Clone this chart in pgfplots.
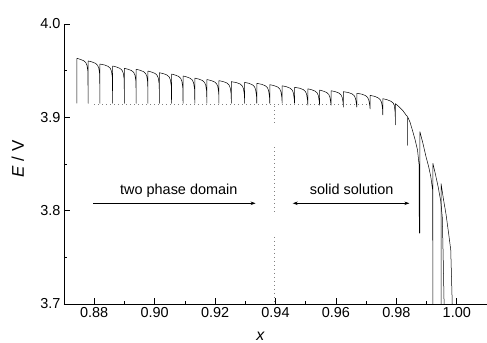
\documentclass[border=0pt]{standalone}
\usepackage{fontspec}
\setmainfont{Liberation Sans}
\usepackage{pgfplots}
\pgfplotsset{compat=1.18}
\usetikzlibrary{arrows.meta}
\begin{document}
\begin{tikzpicture}
\begin{axis}[
  scale only axis, width=423bp, height=280bp,
  xmin=0.87, xmax=1.01, ymin=3.7, ymax=4.0,
  axis x line*=bottom, axis y line*=left,
  axis line style={black, line width=0.8bp},
  xtick={0.88,0.90,0.92,0.94,0.96,0.98,1.00},
  ytick={3.7,3.8,3.9,4.0},
  minor x tick num=1, minor y tick num=1,
  tick align=inside,
  tick style={black, line width=0.7bp},
  major tick length=6bp, minor tick length=3.5bp,
  /pgf/number format/assume math mode=true,
  xticklabel style={/pgf/number format/.cd, fixed, fixed zerofill, precision=2},
  yticklabel style={/pgf/number format/.cd, fixed, fixed zerofill, precision=1},
  ticklabel style={font=\fontsize{14.5}{17}\selectfont},
  xlabel={\textit{x}}, ylabel={\textit{E} / V},
  xlabel style={font=\fontsize{16}{19}\selectfont, at={(axis description cs:0.465,-0.114)}, anchor=center},
  ylabel style={font=\fontsize{17}{20}\selectfont, at={(axis description cs:-0.109,0.518)}, anchor=center},
]
% equilibrium dotted lines
\addplot[gray, line width=0.6bp, dash pattern=on 0.6bp off 3.4bp] coordinates {(0.880,3.914) (0.9705,3.914)};
\addplot[gray, line width=0.6bp, dash pattern=on 0.6bp off 3.4bp] coordinates {(0.9397,3.912) (0.9397,3.894)};
\addplot[gray, line width=0.6bp, dash pattern=on 0.6bp off 3.4bp] coordinates {(0.9397,3.868) (0.9397,3.797)};
\addplot[gray, line width=0.6bp, dash pattern=on 0.6bp off 3.4bp] coordinates {(0.9397,3.772) (0.9397,3.700)};
% GITT sawtooth
\addplot[black, line width=0.5bp, line join=round] coordinates {
(0.8743,3.915)
(0.8743,3.9632)(0.8753,3.9622)(0.8765,3.9607)(0.8772,3.9587)(0.8776,3.9557)(0.8779,3.9492)(0.8780,3.915)
(0.8780,3.9604)(0.8792,3.9594)(0.8804,3.9579)(0.8811,3.9559)(0.8815,3.9529)(0.8818,3.9464)(0.8819,3.915)
(0.8819,3.9571)(0.8834,3.9561)(0.8846,3.9546)(0.8853,3.9526)(0.8857,3.9496)(0.8860,3.9431)(0.8861,3.915)
(0.8861,3.9550)(0.8873,3.9540)(0.8885,3.9525)(0.8892,3.9505)(0.8896,3.9475)(0.8899,3.9410)(0.8900,3.915)
(0.8900,3.9525)(0.8912,3.9515)(0.8924,3.9500)(0.8931,3.9480)(0.8935,3.9450)(0.8938,3.9385)(0.8939,3.915)
(0.8939,3.9515)(0.8951,3.9505)(0.8963,3.9490)(0.8970,3.9470)(0.8974,3.9440)(0.8977,3.9375)(0.8978,3.915)
(0.8978,3.9496)(0.8989,3.9486)(0.9001,3.9471)(0.9008,3.9451)(0.9012,3.9421)(0.9015,3.9356)(0.9016,3.915)
(0.9016,3.9478)(0.9029,3.9468)(0.9041,3.9453)(0.9048,3.9433)(0.9052,3.9403)(0.9055,3.9338)(0.9056,3.915)
(0.9056,3.9464)(0.9067,3.9454)(0.9079,3.9439)(0.9086,3.9419)(0.9090,3.9389)(0.9093,3.9324)(0.9094,3.915)
(0.9094,3.9443)(0.9106,3.9433)(0.9118,3.9418)(0.9125,3.9398)(0.9129,3.9368)(0.9132,3.9303)(0.9133,3.915)
(0.9133,3.9420)(0.9146,3.9410)(0.9158,3.9395)(0.9165,3.9375)(0.9169,3.9345)(0.9172,3.9280)(0.9173,3.915)
(0.9173,3.9405)(0.9186,3.9395)(0.9198,3.9380)(0.9205,3.9360)(0.9209,3.9330)(0.9212,3.9265)(0.9213,3.915)
(0.9213,3.9393)(0.9227,3.9383)(0.9239,3.9368)(0.9246,3.9348)(0.9250,3.9318)(0.9253,3.9253)(0.9254,3.915)
(0.9254,3.9382)(0.9271,3.9372)(0.9283,3.9357)(0.9290,3.9337)(0.9294,3.9307)(0.9297,3.9242)(0.9298,3.915)
(0.9298,3.9375)(0.9311,3.9365)(0.9323,3.9350)(0.9330,3.9330)(0.9334,3.9300)(0.9337,3.9235)(0.9338,3.915)
(0.9338,3.9364)(0.9354,3.9354)(0.9366,3.9339)(0.9373,3.9319)(0.9377,3.9289)(0.9380,3.9224)(0.9381,3.915)
(0.9381,3.9350)(0.9395,3.9340)(0.9407,3.9325)(0.9414,3.9305)(0.9418,3.9275)(0.9421,3.9210)(0.9422,3.915)
(0.9422,3.9338)(0.9436,3.9328)(0.9448,3.9313)(0.9455,3.9293)(0.9459,3.9263)(0.9462,3.9198)(0.9463,3.915)
(0.9463,3.9322)(0.9480,3.9312)(0.9492,3.9297)(0.9499,3.9277)(0.9503,3.9247)(0.9506,3.9182)(0.9507,3.913)
(0.9507,3.9306)(0.9519,3.9296)(0.9531,3.9281)(0.9538,3.9261)(0.9542,3.9231)(0.9545,3.9166)(0.9546,3.913)
(0.9546,3.9292)(0.9557,3.9282)(0.9569,3.9267)(0.9576,3.9247)(0.9580,3.9217)(0.9583,3.9152)(0.9584,3.913)
(0.9584,3.9285)(0.9598,3.9275)(0.9610,3.9260)(0.9617,3.9240)(0.9621,3.9210)(0.9624,3.9150)(0.9625,3.911)
(0.9625,3.9275)(0.9642,3.9265)(0.9654,3.9250)(0.9661,3.9230)(0.9665,3.9200)(0.9668,3.9140)(0.9669,3.911)
(0.9669,3.9258)(0.9686,3.9248)(0.9698,3.9233)(0.9705,3.9213)(0.9709,3.9183)(0.9712,3.9125)(0.9713,3.909)
(0.9713,3.9235)(0.9728,3.9225)(0.9740,3.9208)(0.9747,3.9188)(0.9751,3.9160)(0.9754,3.9100)(0.9755,3.9025)
(0.9755,3.9200)(0.9770,3.9188)(0.9782,3.9172)(0.9789,3.9155)(0.9793,3.9130)(0.9796,3.9050)(0.9797,3.892)
(0.9797,3.9146)(0.9810,3.9110)(0.9822,3.9070)(0.9832,3.9025)(0.9837,3.9007)(0.9837,3.870)(0.9837,3.9007)
(0.9845,3.8950)(0.9853,3.8864)(0.9862,3.8760)(0.9870,3.8650)(0.9875,3.8500)(0.9876,3.776)
(0.9878,3.776)(0.9878,3.8846)(0.9888,3.8720)(0.9898,3.8580)(0.9907,3.8470)(0.9914,3.8364)(0.9920,3.8221)(0.9921,3.700)
(0.9921,3.8507)(0.9930,3.8380)(0.9938,3.8260)(0.9947,3.8100)(0.9952,3.7930)(0.9955,3.7500)(0.9958,3.700)
};
\addplot[black, line width=0.5bp, line join=round] coordinates {
(0.9948,3.700)(0.9948,3.8290)(0.9956,3.8120)(0.9964,3.7970)(0.9972,3.7780)(0.9980,3.7580)(0.9985,3.700)
};
% annotations
\node[anchor=base, font=\fontsize{14.5}{17}\selectfont] at (axis cs:0.9080,3.8168) {two phase domain};
\node[anchor=base, font=\fontsize{14.5}{17}\selectfont] at (axis cs:0.9652,3.8168) {solid solution};
\draw[black, line width=0.7bp, -{Stealth[length=5bp,width=3.5bp]}] (axis cs:0.8797,3.8079) -- (axis cs:0.9334,3.8079);
\draw[black, line width=0.7bp, {Stealth[length=5bp,width=3.5bp]}-{Stealth[length=5bp,width=3.5bp]}] (axis cs:0.9457,3.8079) -- (axis cs:0.9843,3.8079);
\end{axis}
\pgfresetboundingbox
\path[use as bounding box] (-64bp,-39bp) rectangle (423bp,304bp);
\end{tikzpicture}
\end{document}
